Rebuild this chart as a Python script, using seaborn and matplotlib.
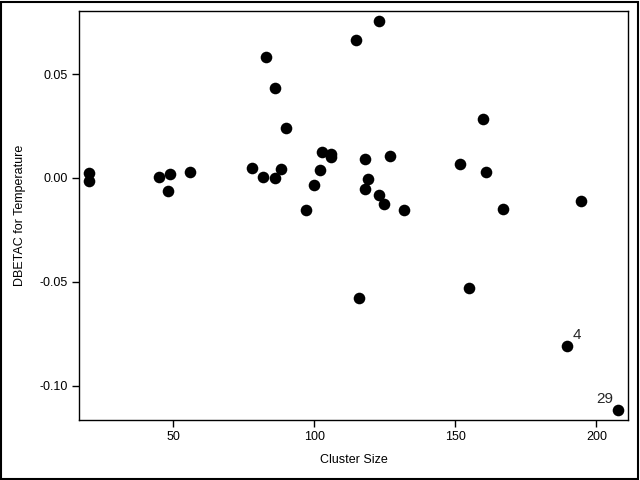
import matplotlib
matplotlib.use("Agg")
import matplotlib.pyplot as plt
import matplotlib.patches as mpatches
from matplotlib.ticker import FixedLocator, FuncFormatter
import seaborn as sns
import pandas as pd

cluster_size = [20.1, 20.1, 45.0, 48.8, 48.2, 56.0, 78.0, 81.9, 82.9, 86.2,
                86.2, 88.1, 90.1, 97.2, 100.0, 102.2, 102.7, 105.9, 105.9, 123.0,
                114.9, 118.1, 126.9, 119.1, 118.1, 123.0, 124.8, 131.9, 151.8, 159.8,
                161.0, 167.0, 194.7, 116.0, 155.0, 189.6, 207.8]
dbetac = [0.0023, -0.0014, 0.0005, 0.0018, -0.0064, 0.0029, 0.0047, 0.0005, 0.0581, 0.0432,
          -0.0002, 0.0042, 0.0239, -0.0156, -0.0035, 0.0037, 0.0124, 0.0114, 0.0103, 0.0755,
          0.0663, 0.0090, 0.0104, -0.0006, -0.0054, -0.0083, -0.0125, -0.0156, 0.0066, 0.0284,
          0.0027, -0.0151, -0.0112, -0.0580, -0.0531, -0.0811, -0.1119]
labels = [""] * 35 + ["4", "29"]

x_ticks = [50, 100, 150, 200]
y_ticks = [-0.10, -0.05, 0.00, 0.05]

df = pd.DataFrame({"Cluster Size": cluster_size, "DBETAC": dbetac, "label": labels})

sns.set_style("white")
plt.rcParams['font.family'] = ['Liberation Sans', 'DejaVu Sans']
plt.rcParams['axes.unicode_minus'] = False

fig = plt.figure(figsize=(6.4, 4.8), dpi=100)
ax = fig.add_axes([79/640, 60/480, 549/640, 409/480])

sns.scatterplot(data=df, x="Cluster Size", y="DBETAC", ax=ax, color="black",
                s=70, edgecolor="black", linewidth=0, legend=False)

for xv, yv, lab in zip(df["Cluster Size"], df["DBETAC"], df["label"]):
    if lab == "4":
        ax.annotate(lab, (xv, yv), xytext=(4, 3), textcoords="offset points",
                    ha="left", va="bottom", fontsize=11)
    elif lab == "29":
        ax.annotate(lab, (xv, yv), xytext=(-4, 3), textcoords="offset points",
                    ha="right", va="bottom", fontsize=11)

ax.set_xlim(16.6, 211.2)
ax.set_ylim(-0.1166, 0.0804)
ax.xaxis.set_major_locator(FixedLocator(x_ticks))
ax.yaxis.set_major_locator(FixedLocator(y_ticks))
ax.yaxis.set_major_formatter(FuncFormatter(lambda v, p: f"{v:.2f}"))
ax.tick_params(axis="both", which="major", direction="out", length=5, width=1,
               color="black", labelsize=9, labelcolor="black", pad=3,
               left=True, bottom=True)
for side in ["left", "bottom", "top", "right"]:
    ax.spines[side].set_visible(True)
    ax.spines[side].set_color("black")
    ax.spines[side].set_linewidth(1)

ax.set_xlabel("Cluster Size", fontsize=9, color="black", labelpad=8)
ax.set_ylabel("DBETAC for Temperature", fontsize=9, color="black", labelpad=10)

fig.patches.append(mpatches.Rectangle((1/640, 1/480), 637/640, 477/480,
                                      transform=fig.transFigure, fill=False,
                                      edgecolor="black", linewidth=1.5))

fig.savefig("out.png", dpi=100)
